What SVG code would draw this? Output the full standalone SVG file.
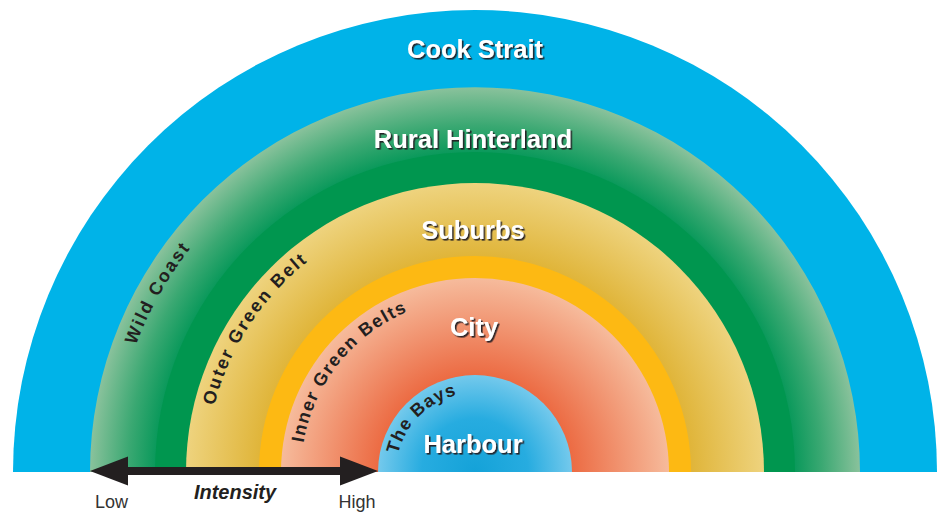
<svg xmlns="http://www.w3.org/2000/svg" width="940" height="514" viewBox="0 0 940 514">
<style>
.big{font-family:"Liberation Sans",Arial,sans-serif;font-weight:bold;font-size:25.5px;fill:#ffffff;text-anchor:middle;filter:url(#shadow)}
.arc{font-family:"Liberation Sans",Arial,sans-serif;font-weight:bold;font-size:18px;fill:#231f20;text-anchor:middle}
.axis{font-family:"Liberation Sans",Arial,sans-serif;font-size:18px;fill:#333333;text-anchor:middle}
</style>
<defs>
<filter id="shadow" x="-10%" y="-30%" width="130%" height="170%">
<feDropShadow dx="1.6" dy="1.6" stdDeviation="0.4" flood-color="#231f20" flood-opacity="0.95"/>
</filter>
<radialGradient id="gGreen" gradientUnits="userSpaceOnUse" cx="475" cy="472" r="385">
<stop offset="0.83" stop-color="#0a995b"/>
<stop offset="0.9" stop-color="#3aa872"/>
<stop offset="1" stop-color="#8ac29c"/>
</radialGradient>
<radialGradient id="gYellow" gradientUnits="userSpaceOnUse" cx="475" cy="472" r="289">
<stop offset="0.75" stop-color="#e0b53a"/>
<stop offset="1" stop-color="#eed37e"/>
</radialGradient>
<radialGradient id="gSalmon" gradientUnits="userSpaceOnUse" cx="475" cy="472" r="194">
<stop offset="0.5" stop-color="#ec6b43"/>
<stop offset="1" stop-color="#f6bb9c"/>
</radialGradient>
<radialGradient id="gHarbour" gradientUnits="userSpaceOnUse" cx="475" cy="472" r="97">
<stop offset="0" stop-color="#14a2d8"/>
<stop offset="0.55" stop-color="#27ace0"/>
<stop offset="1" stop-color="#74c9ec"/>
</radialGradient>
<path id="pWild" d="M113,472 A362,362 0 0 1 837,472"/>
<path id="pOuter" d="M206,472 A269,269 0 0 1 744,472"/>
<path id="pInner" d="M301,472 A174,174 0 0 1 649,472"/>
<path id="pBays" d="M396,472 A79,79 0 0 1 554,472"/>
</defs>

<g id="cook-strait">
<path d="M13,472 A462,462 0 0 1 937,472 Z" fill="#00b3e8"/>
<text class="big" x="475" y="58">Cook Strait</text>
</g>
<g id="rural-hinterland">
<path d="M90,472 A385,385 0 0 1 860,472 Z" fill="url(#gGreen)"/>
<path d="M155,472 A320,320 0 0 1 795,472 Z" fill="#00964f"/>
<text class="big" x="473" y="148">Rural Hinterland</text>
<text class="arc" letter-spacing="2"><textPath href="#pWild" startOffset="186">Wild Coast</textPath></text>
</g>
<g id="suburbs">
<path d="M186,472 A289,289 0 0 1 764,472 Z" fill="url(#gYellow)"/>
<text class="big" x="473" y="239">Suburbs</text>
<text class="arc" letter-spacing="2"><textPath href="#pOuter" startOffset="155">Outer Green Belt</textPath></text>
</g>
<g id="inner-green-belts">
<path d="M259,472 A216,216 0 0 1 691,472 Z" fill="#fdb913"/>
</g>
<g id="city">
<path d="M281,472 A194,194 0 0 1 669,472 Z" fill="url(#gSalmon)"/>
<text class="big" x="474" y="336">City</text>
<text class="arc" letter-spacing="1.5"><textPath href="#pInner" startOffset="117">Inner Green Belts</textPath></text>
</g>
<g id="harbour">
<path d="M378,472 A97,97 0 0 1 572,472 Z" fill="url(#gHarbour)"/>
<text class="big" x="473" y="453">Harbour</text>
<text class="arc" letter-spacing="1"><textPath href="#pBays" startOffset="62">The Bays</textPath></text>
</g>

<g id="connectors">
<g id="intensity-axis" fill="#231f20">
<rect x="126" y="467" width="216" height="8"/>
<polygon points="90,471 128,456.5 128,485.5"/>
<polygon points="378,471 340,456.5 340,485.5"/>
</g>
</g>
<g id="axis-labels">
<text class="axis" x="111.5" y="508">Low</text>
<text class="axis" x="357" y="508">High</text>
<text x="235" y="499" font-family="'Liberation Sans',Arial,sans-serif" font-size="20" font-weight="bold" font-style="italic" fill="#231f20" text-anchor="middle">Intensity</text>
</g>
</svg>
